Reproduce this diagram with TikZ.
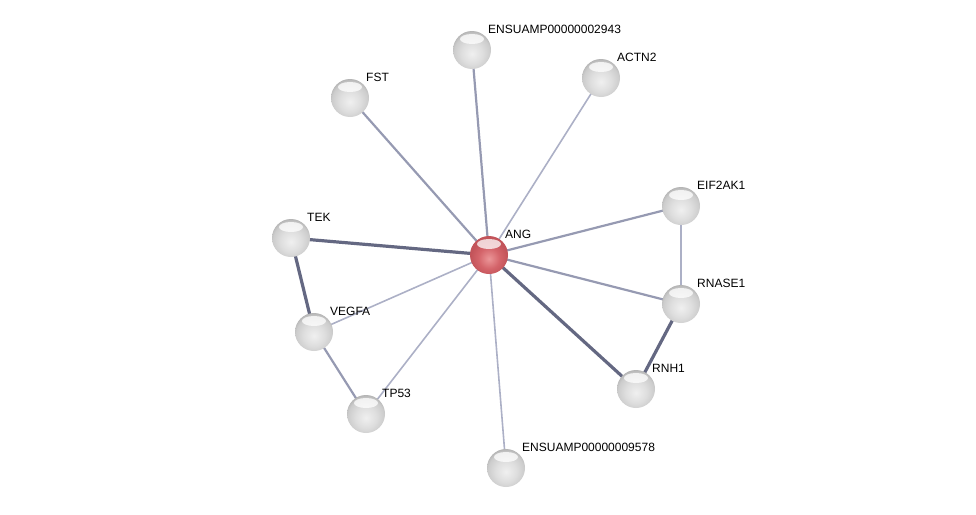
\documentclass[tikz,border=0pt]{standalone}
\usepackage{fontspec}
\setmainfont{Liberation Sans}
\usetikzlibrary{backgrounds}
\usetikzlibrary{positioning}

\definecolor{redlight}{RGB}{235,150,152}
\definecolor{redbody}{RGB}{212,100,106}
\definecolor{redmid}{RGB}{195,84,90}
\definecolor{reddark}{RGB}{160,58,64}
\definecolor{redrim}{RGB}{120,38,44}

% the circle edge sits at about 35bp from the shading centre
\pgfdeclareradialshading{glassball}{\pgfpoint{0bp}{-5bp}}{%
    color(0bp)=(black!6); color(14bp)=(black!13); color(24bp)=(black!20);
    color(29bp)=(black!30); color(33bp)=(black!50); color(37bp)=(black!64);
    color(44bp)=(black!56); color(100bp)=(black!56)}
\pgfdeclareradialshading{redball}{\pgfpoint{0bp}{-5bp}}{%
    color(0bp)=(redlight); color(14bp)=(redbody); color(24bp)=(redmid);
    color(29bp)=(redmid); color(33bp)=(reddark); color(37bp)=(redrim); color(100bp)=(redrim)}

\tikzset{
    prot/.style={circle, minimum size=38pt, inner sep=0pt, shading=glassball,
        path picture={\fill[white, opacity=0.75] ([yshift=-8pt]path picture bounding box.north) ellipse (12pt and 5pt);}},
    query/.style={prot, shading=redball},
    lab/.style={anchor=south west, inner sep=1pt, font=\fontsize{12}{14}\selectfont},
    weak/.style={line width=1.6pt, color={rgb,255:red,172;green,176;blue,198}},
    medium/.style={line width=2.2pt, color={rgb,255:red,150;green,154;blue,178}},
    strong/.style={line width=3.2pt, color={rgb,255:red,100;green,104;blue,130}},
}

\begin{document}
\begin{tikzpicture}[x=1pt, y=-1pt]
            \useasboundingbox (0,0) rectangle (976,514);

            \node[query] (ANG) at (489,255) [label={[lab, label distance=2pt]45:ANG}] {};
            \node[prot] (E2943) at (472,50) [label={[lab, label distance=2pt]45:ENSUAMP00000002943}] {};
            \node[prot] (ACTN2) at (601,78) [label={[lab, label distance=2pt]45:ACTN2}] {};
            \node[prot] (FST) at (350,98) [label={[lab, label distance=2pt]45:FST}] {};
            \node[prot] (EIF2AK1) at (681,206) [label={[lab, label distance=2pt]45:EIF2AK1}] {};
            \node[prot] (TEK) at (291,238) [label={[lab, label distance=2pt]45:TEK}] {};
            \node[prot] (RNASE1) at (681,304) [label={[lab, label distance=2pt]45:RNASE1}] {};
            \node[prot] (VEGFA) at (314,332) [label={[lab, label distance=2pt]45:VEGFA}] {};
            \node[prot] (RNH1) at (636,389) [label={[lab, label distance=2pt]45:RNH1}] {};
            \node[prot] (TP53) at (366,414) [label={[lab, label distance=2pt]45:TP53}] {};
            \node[prot] (E9578) at (506,468) [label={[lab, label distance=2pt]45:ENSUAMP00000009578}] {};

            \begin{scope}[on background layer]
                \draw[medium] (ANG.center) -- (E2943.center);
                \draw[weak] (ANG.center) -- (ACTN2.center);
                \draw[medium] (ANG.center) -- (FST.center);
                \draw[medium] (ANG.center) -- (EIF2AK1.center);
                \draw[strong] (ANG.center) -- (TEK.center);
                \draw[medium] (ANG.center) -- (RNASE1.center);
                \draw[weak] (ANG.center) -- (VEGFA.center);
                \draw[strong] (ANG.center) -- (RNH1.center);
                \draw[weak] (ANG.center) -- (TP53.center);
                \draw[weak] (ANG.center) -- (E9578.center);
                \draw[strong] (TEK.center) -- (VEGFA.center);
                \draw[medium] (VEGFA.center) -- (TP53.center);
                \draw[weak, line width=1.3pt] (EIF2AK1.center) -- (RNASE1.center);
                \draw[strong] (RNASE1.center) -- (RNH1.center);
            \end{scope}
        \end{tikzpicture}
\end{document}
